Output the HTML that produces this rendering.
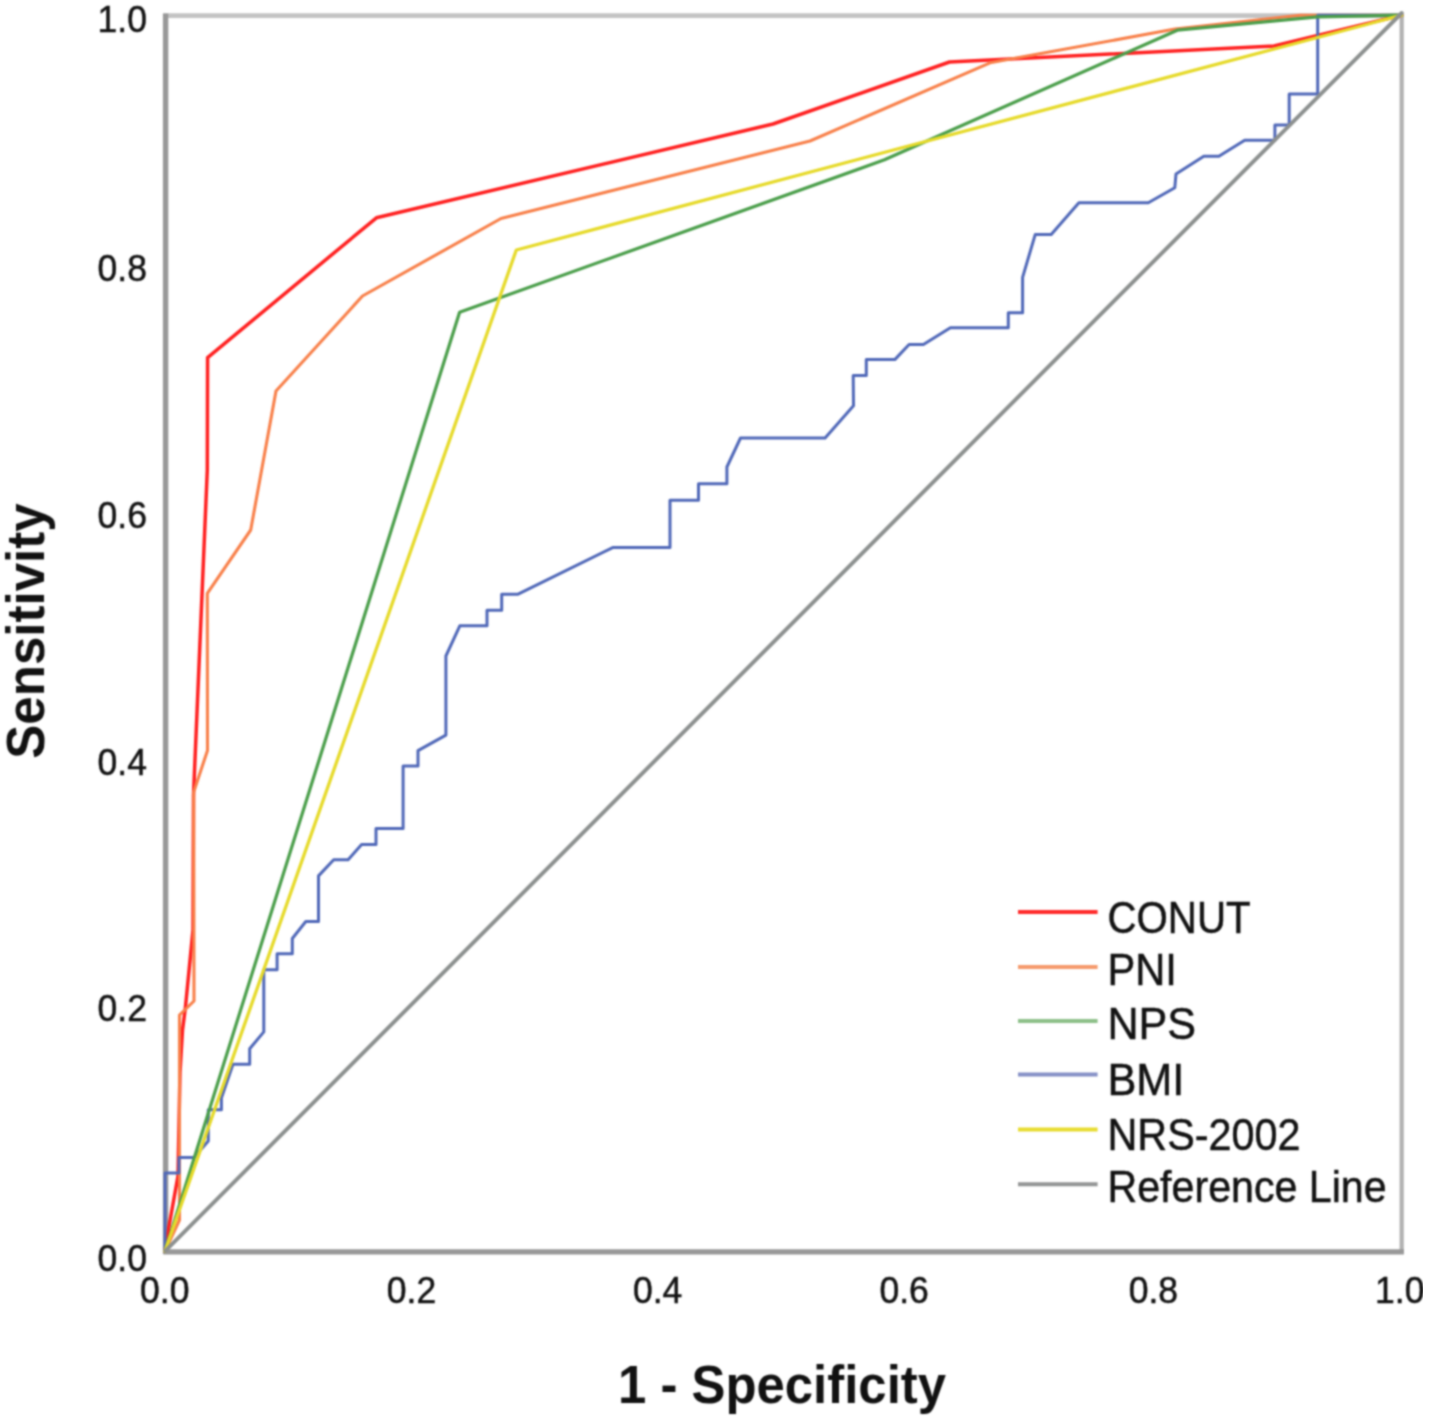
<!DOCTYPE html><html><head><meta charset="utf-8"><style>html,body{margin:0;padding:0;background:#fff;}svg{display:block;}text{font-family:"Liberation Sans",sans-serif;fill:#111;}text.n{stroke:#111;stroke-width:0.5px;}</style></head><body>
<svg width="1429" height="1419" viewBox="0 0 1429 1419">
<defs><filter id="bl" x="0" y="0" width="1429" height="1419" filterUnits="userSpaceOnUse" color-interpolation-filters="sRGB"><feConvolveMatrix order="5" kernelMatrix="0.00142 0.00904 0.01675 0.00904 0.00142 0.00904 0.05757 0.10673 0.05757 0.00904 0.01675 0.10673 0.19786 0.10673 0.01675 0.00904 0.05757 0.10673 0.05757 0.00904 0.00142 0.00904 0.01675 0.00904 0.00142" edgeMode="duplicate"/></filter></defs>
<rect width="1429" height="1419" fill="#fff"/>
<g filter="url(#bl)">
<line x1="163.4" y1="15.6" x2="1403.9" y2="15.6" stroke="#c3c3c3" stroke-width="4.8"/>
<line x1="1401.7" y1="15.6" x2="1401.7" y2="1251.9" stroke="#b1b1b1" stroke-width="4.2"/>
<line x1="163.4" y1="1251.9" x2="1403.9" y2="1251.9" stroke="#989898" stroke-width="5.4"/>
<line x1="165.6" y1="13.399999999999999" x2="165.6" y2="1254.1000000000001" stroke="#989898" stroke-width="5.4"/>
<polyline points="165.0,1251.0 168.5,1229.0 178.0,1176.0 180.0,1072.0 182.5,1030.0 185.4,1007.6 193.0,930.0 193.5,795.0 207.3,470.0 207.6,357.6 376.4,217.8 773.0,124.0 949.5,62.0 1274.0,46.0 1401.7,15.2" fill="none" stroke="#ff2020" stroke-width="3.5" stroke-linejoin="round" stroke-linecap="round"/>
<polyline points="165.0,1251.0 179.5,1220.0 179.5,1015.0 194.0,1001.0 193.7,792.0 207.5,750.4 207.3,593.3 250.7,530.0 276.0,391.0 362.5,296.0 501.0,218.5 810.0,141.0 990.0,62.8 1175.0,29.0 1300.0,15.2 1401.7,15.2" fill="none" stroke="#f8804a" stroke-width="3.1" stroke-linejoin="round" stroke-linecap="round"/>
<polyline points="165.0,1251.0 165.0,1173.0 179.0,1173.0 179.0,1157.5 194.0,1157.5 208.3,1141.0 208.3,1109.7 221.4,1109.7 221.4,1098.0 233.0,1064.3 249.7,1064.3 249.7,1048.8 263.8,1031.9 263.8,969.7 277.1,969.7 277.1,953.7 292.3,953.7 292.3,938.5 305.8,921.5 318.5,921.5 318.5,875.9 333.7,859.8 348.1,859.8 361.6,844.6 376.0,844.6 376.0,828.5 403.1,828.5 403.1,766.0 418.0,766.0 418.0,750.6 445.9,735.1 445.9,656.0 459.8,625.8 487.0,625.8 487.0,610.3 501.7,610.3 501.7,594.2 518.1,594.2 613.2,547.4 670.0,547.4 670.0,500.3 698.5,500.3 698.5,483.7 726.9,483.7 726.9,467.0 740.5,438.0 825.1,438.0 853.5,405.8 853.2,375.6 866.3,375.6 866.3,359.6 894.8,359.6 909.1,344.5 923.4,344.5 950.4,327.8 1008.3,327.8 1008.3,312.7 1022.6,312.7 1022.6,277.4 1035.2,234.6 1051.2,234.6 1078.9,202.7 1148.3,202.7 1174.8,187.7 1176.0,173.9 1203.8,156.2 1218.9,156.2 1244.7,140.2 1274.9,140.2 1274.9,125.1 1289.2,125.1 1289.2,94.0 1317.7,94.0 1317.7,15.2 1401.7,15.2" fill="none" stroke="#5068b8" stroke-width="3.0" stroke-linejoin="round" stroke-linecap="round"/>
<polyline points="165.0,1251.0 459.6,312.3 884.5,159.8 1177.3,30.2 1317.7,16.8 1401.7,15.2" fill="none" stroke="#4a9e4a" stroke-width="3.2" stroke-linejoin="round" stroke-linecap="round"/>
<polyline points="165.0,1251.0 516.3,250.0 1401.7,15.2" fill="none" stroke="#e6da2a" stroke-width="3.3" stroke-linejoin="round" stroke-linecap="round"/>
<polyline points="165.6,1250.7 1401.7,13.0" fill="none" stroke="#8c908f" stroke-width="3.9" stroke-linejoin="round" stroke-linecap="round"/>
<text class="n" x="147" y="32.2" font-size="37.5" text-anchor="end" textLength="49.4" lengthAdjust="spacingAndGlyphs">1.0</text>
<text class="n" x="147" y="281.3" font-size="37.5" text-anchor="end" textLength="49.4" lengthAdjust="spacingAndGlyphs">0.8</text>
<text class="n" x="147" y="528.1" font-size="37.5" text-anchor="end" textLength="49.4" lengthAdjust="spacingAndGlyphs">0.6</text>
<text class="n" x="147" y="774.5" font-size="37.5" text-anchor="end" textLength="49.4" lengthAdjust="spacingAndGlyphs">0.4</text>
<text class="n" x="147" y="1021.0" font-size="37.5" text-anchor="end" textLength="49.4" lengthAdjust="spacingAndGlyphs">0.2</text>
<text class="n" x="147" y="1270.6" font-size="37.5" text-anchor="end" textLength="49.4" lengthAdjust="spacingAndGlyphs">0.0</text>
<text class="n" x="164.8" y="1303.1" font-size="37.5" text-anchor="middle" textLength="49.4" lengthAdjust="spacingAndGlyphs">0.0</text>
<text class="n" x="411.5" y="1303.1" font-size="37.5" text-anchor="middle" textLength="49.4" lengthAdjust="spacingAndGlyphs">0.2</text>
<text class="n" x="657.6" y="1303.1" font-size="37.5" text-anchor="middle" textLength="49.4" lengthAdjust="spacingAndGlyphs">0.4</text>
<text class="n" x="904.1" y="1303.1" font-size="37.5" text-anchor="middle" textLength="49.4" lengthAdjust="spacingAndGlyphs">0.6</text>
<text class="n" x="1153.4" y="1303.1" font-size="37.5" text-anchor="middle" textLength="49.4" lengthAdjust="spacingAndGlyphs">0.8</text>
<text class="n" x="1399.8" y="1303.1" font-size="37.5" text-anchor="middle" textLength="49.4" lengthAdjust="spacingAndGlyphs">1.0</text>
<line x1="1018" y1="912.0" x2="1097.6" y2="912.0" stroke="#ff2a2a" stroke-width="4"/>
<text class="n" x="1107.5" y="932.8" font-size="44" textLength="143.1" lengthAdjust="spacingAndGlyphs">CONUT</text>
<line x1="1018" y1="967.0" x2="1097.6" y2="967.0" stroke="#f59a6c" stroke-width="4"/>
<text class="n" x="1107.5" y="984.6" font-size="44" textLength="69.4" lengthAdjust="spacingAndGlyphs">PNI</text>
<line x1="1018" y1="1020.9" x2="1097.6" y2="1020.9" stroke="#8cbf88" stroke-width="4"/>
<text class="n" x="1107.5" y="1039.3" font-size="44" textLength="88.6" lengthAdjust="spacingAndGlyphs">NPS</text>
<line x1="1018" y1="1074.5" x2="1097.6" y2="1074.5" stroke="#8590c6" stroke-width="4"/>
<text class="n" x="1107.5" y="1094.7" font-size="44" textLength="76.9" lengthAdjust="spacingAndGlyphs">BMI</text>
<line x1="1018" y1="1129.5" x2="1097.6" y2="1129.5" stroke="#e8dc2e" stroke-width="4"/>
<text class="n" x="1107.5" y="1150.4" font-size="44" textLength="193" lengthAdjust="spacingAndGlyphs">NRS-2002</text>
<line x1="1018" y1="1184.2" x2="1097.6" y2="1184.2" stroke="#939595" stroke-width="4"/>
<text class="n" x="1107.5" y="1201.8" font-size="44" textLength="279.1" lengthAdjust="spacingAndGlyphs">Reference Line</text>
<text x="782" y="1403" font-size="53" font-weight="bold" text-anchor="middle" textLength="328.1" lengthAdjust="spacingAndGlyphs">1 - Specificity</text>
<text transform="translate(44,631) rotate(-90)" font-size="53" font-weight="bold" text-anchor="middle" textLength="255.4" lengthAdjust="spacingAndGlyphs">Sensitivity</text>
</g>
<rect x="1423" y="1262" width="6" height="50" fill="#fff"/>
</svg></body></html>
